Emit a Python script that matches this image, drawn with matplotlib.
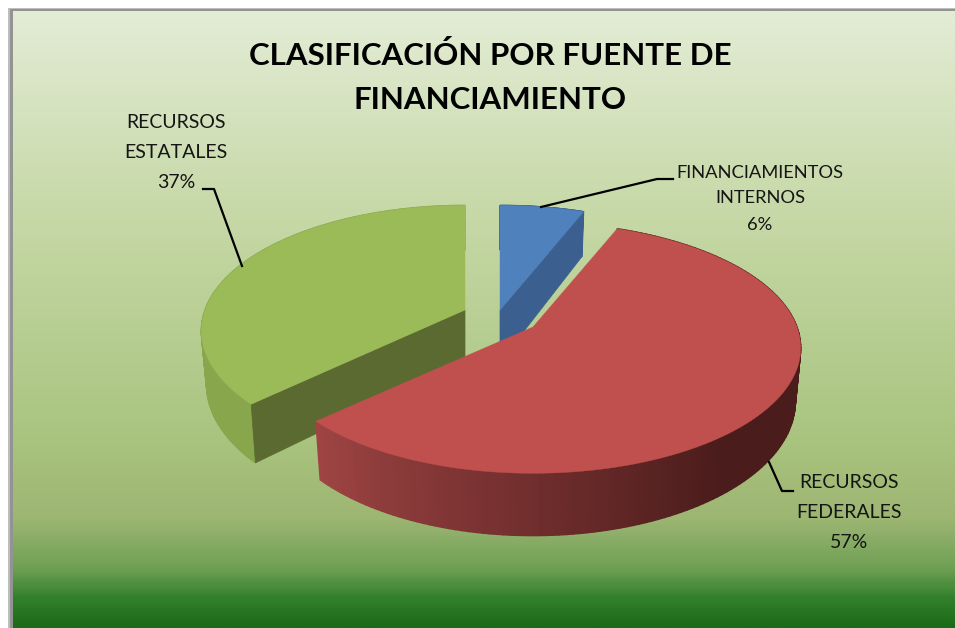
import numpy as np
import matplotlib
matplotlib.use('Agg')
import matplotlib.pyplot as plt
from matplotlib.colors import to_rgb, LinearSegmentedColormap
from matplotlib.patches import Rectangle

title = "CLASIFICACIÓN POR FUENTE DE\nFINANCIAMIENTO"
names = ["FINANCIAMIENTOS\nINTERNOS", "RECURSOS\nFEDERALES", "RECURSOS\nESTATALES"]
shares = [6, 57, 37]

colors = ['#4f81bd', '#c0504d', '#9bbb59']
cut_colors = ['#3b6090', '#8f3b39', '#5b6a31']
apex = [(500, 310), (533, 327), (465, 310)]
radius_x = [262, 264, 260]
label_pos = [(760, 173), (849, 483), (176, 123)]
label_size = [13.2, 14, 14]
leaders = [[(541, 207), (657, 179), (673, 179)],
           [(769, 462), (782, 491), (793, 491)],
           [(242, 266), (214, 189), (203, 189)]]

# pie plane, flattened with a bit of perspective
ry = 122
persp = 0.166
depth = 52


def top_point(i, ang):
    u, v = np.cos(ang), np.sin(ang)
    f = 1 / (1 + persp * v)
    return apex[i][0] + radius_x[i] * u * f, apex[i][1] - ry * v * f


def low_point(i, ang):
    u, v = np.cos(ang), np.sin(ang)
    f = 1 / (1 + persp * v)
    return apex[i][0] + 0.98 * radius_x[i] * u * f, apex[i][1] - ry * v * f + depth * f


def mix(c1, c2, t):
    a, b = np.array(to_rgb(c1)), np.array(to_rgb(c2))
    return tuple(a + (b - a) * t)


def wall_color(i, ang):
    if i == 1:
        t = np.clip((np.degrees(ang) + 136.8) / 85, 0, 1)
        return mix('#a04544', '#4a1c1b', t)
    if i == 2:
        return '#88a64c'
    return cut_colors[0]


def cut_face(i, ang, z):
    p1, p2 = top_point(i, ang), low_point(i, ang)
    x0, y0 = apex[i]
    ax.fill([x0, p1[0], p2[0], x0], [y0, p1[1], p2[1], y0 + depth],
            color=cut_colors[i], lw=0.5, zorder=z)


fig = plt.figure(figsize=(9.55, 6.28), dpi=100, facecolor='white')
ax = fig.add_axes([0, 0, 1, 1])

# frame and background
ax.add_patch(Rectangle((8, 8), 947, 620, facecolor='#bdbdbd', edgecolor='none', zorder=0))
ax.add_patch(Rectangle((10, 9), 945, 619, facecolor='#939393', edgecolor='none', zorder=0.1))
stops = [(0.0, '#e3ecd5'), (0.32, '#c7d9a8'), (0.695, '#a9c47f'), (0.825, '#9db673'),
         (0.906, '#6fa054'), (0.955, '#32802c'), (1.0, '#1b6b18')]
cmap = LinearSegmentedColormap.from_list('bg', stops)
ax.imshow(np.linspace(0, 1, 300).reshape(-1, 1), cmap=cmap, aspect='auto',
          extent=(13, 955, 628, 11), zorder=0.5)
ax.set_xlim(0, 955)
ax.set_ylim(628, 0)
ax.axis('off')

# slice angles, clockwise from 12 o'clock
total = sum(shares)
starts = []
ends = []
a = 90.0
for s in shares:
    starts.append(a)
    a -= s / total * 360
    ends.append(a)

# back to front: green, blue, red
for i in [2, 0, 1]:
    a0, a1 = np.radians(starts[i]), np.radians(ends[i])
    angs = np.linspace(a0, a1, 160)
    z = 2 + [2, 0, 1].index(i)

    # outer wall
    for k in range(len(angs) - 1):
        p1 = top_point(i, angs[k])
        p2 = top_point(i, angs[k + 1])
        p3 = low_point(i, angs[k + 1])
        p4 = low_point(i, angs[k])
        ax.fill([p1[0], p2[0], p3[0], p4[0]], [p1[1], p2[1], p3[1], p4[1]],
                color=wall_color(i, angs[k]), lw=1.0, zorder=z)

    # cut faces, only the visible ones
    if i == 0:
        cut_face(i, a1, z + 0.1)
    if i == 2:
        cut_face(i, a0, z + 0.1)

    # top face
    xs = [apex[i][0]] + [top_point(i, t)[0] for t in angs]
    ys = [apex[i][1]] + [top_point(i, t)[1] for t in angs]
    ax.fill(xs, ys, color=colors[i], lw=0.3, zorder=z + 0.2)

# labels
for i in range(3):
    line1, line2 = names[i].split('\n')
    x, y = label_pos[i]
    ax.text(x, y, line1, ha='center', va='center', fontsize=label_size[i], family='Lato', color='#151515', zorder=8)
    ax.text(x, y + (25 if i == 0 else 29), line2, ha='center', va='center', fontsize=label_size[i], family='Lato',
            color='#151515', zorder=8)
    ax.text(x, y + (52 if i == 0 else 59), '%d%%' % shares[i], ha='center', va='center', fontsize=label_size[i],
            family='Lato', color='#151515', zorder=8)
    ax.plot([p[0] for p in leaders[i]], [p[1] for p in leaders[i]], color='black', lw=1.6, zorder=7)

t1, t2 = title.split('\n')
ax.text(490, 65, t1, ha='center', va='baseline', fontsize=22.5, fontweight='bold', family='Lato', color='black', zorder=8)
ax.text(490, 109, t2, ha='center', va='baseline', fontsize=22.5, fontweight='bold', family='Lato', color='black', zorder=8)

fig.savefig('out.png', dpi=100)
